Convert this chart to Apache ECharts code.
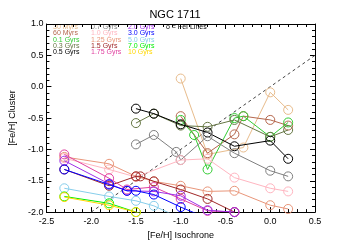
<!DOCTYPE html>
<html><head><meta charset="utf-8">
<script src="https://cdn.jsdelivr.net/npm/echarts@6/dist/echarts.min.js"></script>
<style>html,body{margin:0;padding:0;background:#fff}#c{width:350px;height:245px}</style>
</head><body><div id="c"></div>
<script>
const titleText = 'NGC 1711';
const xName = '[Fe/H] Isochrone';
const yName = '[Fe/H] Cluster';
const noteText = 'o = FeI Lines';
const ageLabels = ['30 Myrs','60 Myrs','0.1 Gyrs','0.3 Gyrs','0.5 Gyrs','0.7 Gyrs','1.0 Gyrs','1.25 Gyrs','1.5 Gyrs','1.75 Gyrs','2.0 Gyrs','3.0 Gyrs','5.0 Gyrs','7.0 Gyrs','10 Gyrs'];
const ageColors = ['#E8BC8C','#B5674D','#33CC33','#667744','#000000','#808080','#FFB6C1','#E9967A','#A02828','#E040A0','#A030E8','#0000FF','#87CEEB','#00EE00','#FFD700'];

// [Fe/H] isochrone, [Fe/H] cluster pairs
const myr30  = [[-1.0,0.13],[-0.7,-1.08],[-0.3,-0.97],[0.0,-0.09],[0.2,-0.37]];
const myr60  = [[-1.0,-0.47],[-0.7,-1.06],[-0.4,-0.76],[-0.3,-0.47],[0.0,-0.53],[0.2,-0.62]];
const gyr01  = [[-1.0,-0.53],[-0.85,-0.77],[-0.7,-1.32],[-0.4,-0.50],[-0.3,-0.47],[0.0,-0.80],[0.2,-0.57]];
const gyr03  = [[-1.5,-0.58],[-1.3,-0.43],[-1.0,-0.62],[-0.7,-0.64],[-0.4,-0.53],[0.0,-0.80],[0.2,-0.69]];
const gyr05  = [[-1.5,-0.35],[-1.3,-0.43],[-1.0,-0.60],[-0.7,-0.73],[-0.4,-0.95],[0.0,-0.86],[0.2,-1.15]];
const gyr07  = [[-1.5,-0.92],[-1.3,-0.77],[-1.05,-1.04],[-1.0,-1.17],[-0.7,-0.79],[-0.4,-1.06],[0.0,-1.34],[0.2,-1.43]];
const gyr10  = [[-2.3,-1.14],[-1.8,-1.32],[-1.5,-1.44],[-1.0,-1.17],[-0.7,-1.15],[-0.4,-1.45],[0.0,-1.62],[0.2,-1.67]];
const gyr125 = [[-2.3,-1.12],[-1.8,-1.23],[-1.5,-1.43],[-1.3,-1.51],[-1.0,-1.58],[-0.7,-1.67],[-0.4,-1.66],[0.0,-1.89],[0.2,-1.95]];
const gyr15  = [[-2.3,-1.32],[-1.8,-1.58],[-1.5,-1.43],[-1.45,-1.43],[-1.3,-1.51],[-1.0,-1.64],[-0.7,-1.79],[-0.4,-2.0]];
const gyr175 = [[-2.3,-1.08],[-1.8,-1.46],[-1.6,-1.64],[-1.3,-1.60],[-1.0,-1.79],[-0.7,-1.98],[-0.4,-2.0]];
const gyr20  = [[-2.3,-1.18],[-1.8,-1.55],[-1.6,-1.66],[-1.3,-1.67],[-1.0,-1.74],[-0.7,-1.97],[-0.4,-2.0]];
const gyr30  = [[-2.3,-1.32],[-1.8,-1.56],[-1.6,-1.66],[-1.5,-1.66],[-1.3,-1.72],[-1.0,-1.92],[-0.7,-2.1]];
const gyr50  = [[-2.3,-1.62],[-1.8,-1.75],[-1.5,-1.82],[-1.3,-1.90],[-1.0,-2.1]];
const gyr70  = [[-2.3,-1.75],[-1.8,-1.86],[-1.5,-2.0],[-1.3,-2.1]];
const gyr100 = [[-2.3,-1.76],[-1.8,-1.89],[-1.5,-2.0],[-1.3,-2.1]];
const oneToOne = [[-2.0,-2.0],[0.5,0.5]];

const seriesData = [myr30,myr60,gyr01,gyr03,gyr05,gyr07,gyr10,gyr125,gyr15,gyr175,gyr20,gyr30,gyr50,gyr70,gyr100];

const font = "'Liberation Sans', Arial, Helvetica, sans-serif";
const chart = echarts.init(document.getElementById('c'), null, {renderer:'canvas'});

const series = [{
  type:'line', data: oneToOne, symbol:'none', silent:true,
  lineStyle:{color:'#444', width:1, type:[3,3]}, z:1
}];
seriesData.forEach((d,i)=>{
  const c = ageColors[i];
  series.push({
    type:'line', name: ageLabels[i], data: d, clip:true,
    symbol:'circle', symbolSize:9,
    itemStyle:{color:'transparent', borderColor:c, borderWidth:1},
    lineStyle:{color:c, width:1},
    emphasis:{disabled:true}, z:2+i
  });
});

const legendX = [53, 91, 128];
const graphics = ageLabels.map((t,i)=>({
  type:'text', left: legendX[Math.floor(i/5)], top: 23.5 + (i%5)*6.3,
  style:{text:t, fill: ageColors[i], font: '7px ' + font}
}));
graphics.push({type:'text', left:166, top:23.5, style:{text:noteText, fill:'#000', font:'7px ' + font}});

const axisCommon = {
  type:'value',
  axisLine:{show:true, onZero:false, lineStyle:{color:'#000', width:1}},
  axisTick:{show:true, inside:true, length:5, lineStyle:{color:'#000'}},
  minorTick:{show:true, splitNumber:5, length:3, lineStyle:{color:'#000'}},
  splitLine:{show:false}, minorSplitLine:{show:false}
};

chart.setOption({
  animation:false,
  backgroundColor:'#fff',
  textStyle:{fontFamily:font},
  title:{text:titleText, left:175, textAlign:'center', top:9, padding:0, textStyle:{fontSize:11, fontWeight:'normal', color:'#000', fontFamily:font}},
  grid:{left:35, right:35, top:24, bottom:26},
  xAxis:[
    Object.assign({}, axisCommon, {position:'bottom', min:-2.5, max:0.5, interval:0.5,
      axisLabel:{fontSize:9, color:'#000', margin:5, formatter:v=>v.toFixed(1)},
      name:xName, nameLocation:'middle', nameGap:14, nameTextStyle:{fontSize:9, color:'#000'}}),
    Object.assign({}, axisCommon, {position:'top', min:-2.5, max:0.5, interval:0.5, axisLabel:{show:false}})
  ],
  yAxis:[
    Object.assign({}, axisCommon, {position:'left', min:-2.0, max:1.0, interval:0.5,
      axisLabel:{fontSize:9, color:'#000', margin:3, formatter:v=>v.toFixed(1)},
      name:yName, nameLocation:'middle', nameGap:20, nameTextStyle:{fontSize:9, color:'#000'}}),
    Object.assign({}, axisCommon, {position:'right', min:-2.0, max:1.0, interval:0.5, axisLabel:{show:false}})
  ],
  graphic: graphics,
  series: series
});
</script></body></html>
